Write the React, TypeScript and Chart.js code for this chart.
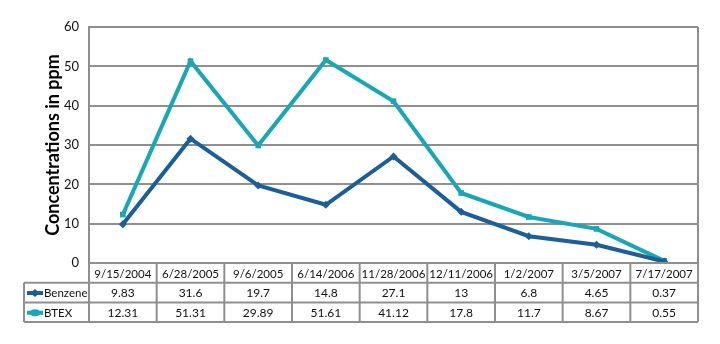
import React, { useEffect, useRef } from "react";
import { Chart, registerables } from "chart.js";

Chart.register(...registerables);

const categories = ["9/15/2004", "6/28/2005", "9/6/2005", "6/14/2006", "11/28/2006", "12/11/2006", "1/2/2007", "3/5/2007", "7/17/2007"];
const benzene = [9.83, 31.6, 19.7, 14.8, 27.1, 13, 6.8, 4.65, 0.37];
const btex = [12.31, 51.31, 29.89, 51.61, 41.12, 17.8, 11.7, 8.67, 0.55];
const benzeneLabels = ["9.83", "31.6", "19.7", "14.8", "27.1", "13", "6.8", "4.65", "0.37"];
const btexLabels = ["12.31", "51.31", "29.89", "51.61", "41.12", "17.8", "11.7", "8.67", "0.55"];
const yTitle = "Concentrations in ppm";

const BENZENE_COLOR = "#1B5E9A";
const BTEX_COLOR = "#19A7B6";
const GRID = "#8f8f8f";
const FONT = "Lato, 'Open Sans', sans-serif";

const tablePlugin = {
  id: "dataTable",
  afterDraw(chart: any) {
    const ctx = chart.ctx;
    const area = chart.chartArea;
    const xs = chart.scales.x;
    const n = categories.length;
    const colW = (area.right - area.left) / n;
    const top = area.bottom;
    const rowH = 19.7;
    const labelLeft = 24;
    ctx.save();
    ctx.strokeStyle = GRID;
    ctx.lineWidth = 2;
    ctx.beginPath();
    ctx.moveTo(area.left, top);
    ctx.lineTo(area.right, top);
    for (let r = 1; r <= 3; r++) {
      ctx.moveTo(labelLeft, top + r * rowH);
      ctx.lineTo(area.right, top + r * rowH);
    }
    for (let i = 0; i <= n; i++) {
      const x = area.left + i * colW;
      ctx.moveTo(x, top);
      ctx.lineTo(x, top + 3 * rowH);
    }
    ctx.moveTo(labelLeft, top + rowH);
    ctx.lineTo(labelLeft, top + 3 * rowH);
    ctx.stroke();

    ctx.fillStyle = "#111";
    ctx.textAlign = "center";
    ctx.textBaseline = "middle";
    for (let i = 0; i < n; i++) {
      const cx = xs.getPixelForValue(i);
      ctx.font = `11.5px ${FONT}`;
      ctx.fillText(categories[i], cx, top + rowH * 0.5 + 1);
      ctx.font = `12px ${FONT}`;
      ctx.fillText(benzeneLabels[i], cx, top + rowH * 1.5 + 1);
      ctx.fillText(btexLabels[i], cx, top + rowH * 2.5 + 1);
    }
    const keys = [
      { label: "Benzene", color: BENZENE_COLOR, diamond: true },
      { label: "BTEX", color: BTEX_COLOR, diamond: false },
    ];
    ctx.font = `11.5px ${FONT}`;
    keys.forEach((k, j) => {
      const cy = top + rowH * (1.5 + j) + 0.5;
      ctx.strokeStyle = k.color;
      ctx.fillStyle = k.color;
      ctx.lineWidth = 4;
      ctx.beginPath();
      ctx.moveTo(27, cy);
      ctx.lineTo(43, cy);
      ctx.stroke();
      ctx.beginPath();
      if (k.diamond) {
        ctx.moveTo(35, cy - 4);
        ctx.lineTo(39.5, cy);
        ctx.lineTo(35, cy + 4);
        ctx.lineTo(30.5, cy);
      } else {
        ctx.ellipse(35, cy, 5.5, 3.5, 0, 0, Math.PI * 2);
      }
      ctx.closePath();
      ctx.fill();
      ctx.fillStyle = "#111";
      ctx.textAlign = "left";
      ctx.fillText(k.label, 44, cy + 0.5);
    });
    ctx.restore();
  },
};

export default function App() {
  const ref = useRef<HTMLCanvasElement>(null);
  useEffect(() => {
    const chart = new Chart(ref.current as HTMLCanvasElement, {
      type: "line",
      data: {
        labels: categories,
        datasets: [
          {
            label: "Benzene",
            data: benzene,
            borderColor: BENZENE_COLOR,
            backgroundColor: BENZENE_COLOR,
            borderWidth: 4,
            pointStyle: "rectRot",
            pointRadius: 4,
            pointBorderWidth: 0,
            tension: 0,
          },
          {
            label: "BTEX",
            data: btex,
            borderColor: BTEX_COLOR,
            backgroundColor: BTEX_COLOR,
            borderWidth: 4,
            pointStyle: "rect",
            pointRadius: 4,
            pointBorderWidth: 0,
            tension: 0,
          },
        ],
      },
      options: {
        responsive: false,
        animation: false,
        layout: { padding: { left: 0, top: 27, right: 22, bottom: 81 } },
        plugins: { legend: { display: false }, tooltip: { enabled: false } },
        scales: {
          x: {
            offset: true,
            ticks: { display: false },
            grid: { display: false },
            border: { display: false },
            afterFit: (s: any) => {
              s.height = 0;
            },
          },
          y: {
            min: 0,
            max: 60,
            ticks: {
              stepSize: 10,
              color: "#111",
              font: { size: 13, family: FONT },
              padding: 10,
            },
            grid: { color: GRID, lineWidth: 2, drawTicks: false },
            border: { display: true, color: GRID, width: 2 },
            title: {
              display: true,
              text: yTitle,
              color: "#000",
              font: { size: 18, weight: "bold", family: FONT },
              padding: { top: 42, bottom: 0 },
            },
            afterFit: (s: any) => {
              s.width = 89;
            },
          },
        },
      },
      plugins: [
        tablePlugin,
        {
          id: "rightBorder",
          afterDatasetsDraw(chart: any) {
            const a = chart.chartArea;
            const c = chart.ctx;
            c.save();
            c.strokeStyle = GRID;
            c.lineWidth = 2;
            c.beginPath();
            c.moveTo(a.right, a.top);
            c.lineTo(a.right, a.bottom);
            c.stroke();
            c.restore();
          },
        },
      ],
    } as any);
    return () => chart.destroy();
  }, []);
  return (
    <div style={{ position: "fixed", left: 0, top: 0, width: 720, height: 344, background: "#fff" }}>
      <canvas ref={ref} width={720} height={344} />
    </div>
  );
}
